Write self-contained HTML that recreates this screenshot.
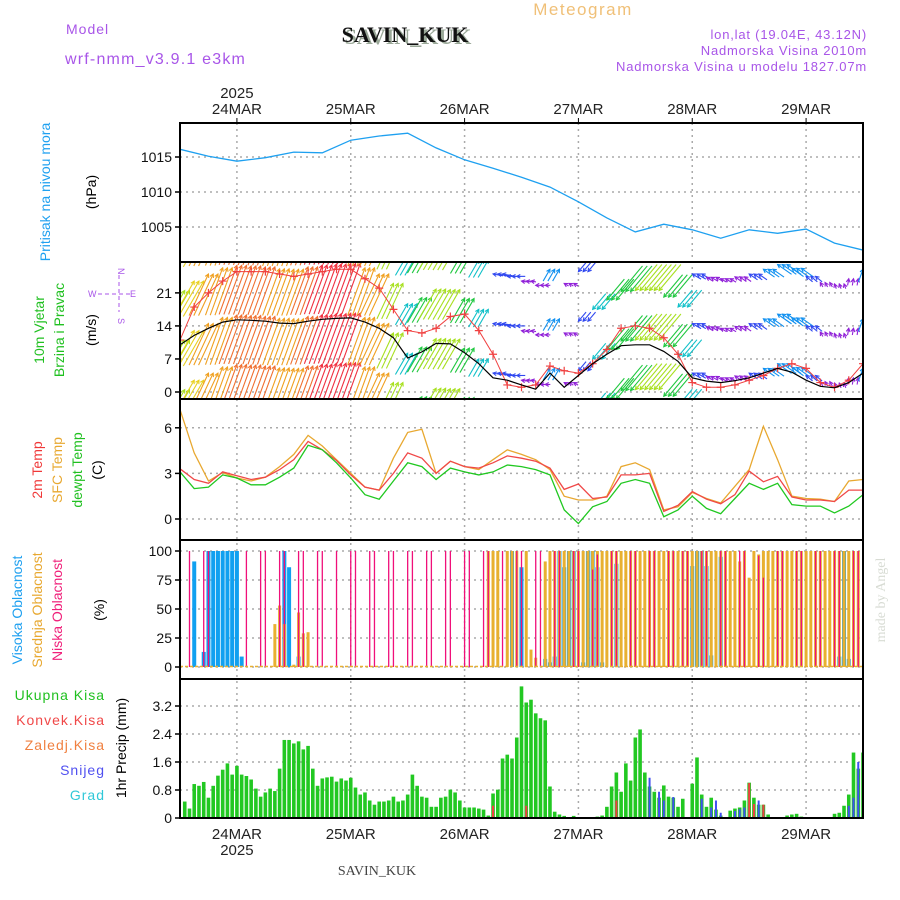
<!DOCTYPE html>
<html><head><meta charset="utf-8"><style>
html,body{margin:0;padding:0;background:#fff;width:900px;height:900px;overflow:hidden}
svg{display:block;font-family:"Liberation Sans",sans-serif}
</style></head><body>
<svg id="chart" width="900" height="900" viewBox="0 0 900 900">
<g>
<text x="583" y="15" text-anchor="middle" font-size="17" fill="#f0c078" letter-spacing="1.5">Meteogram</text>
<text x="66" y="34" font-size="14" fill="#a855e8" letter-spacing="1">Model</text>
<text x="408" y="44" text-anchor="middle" font-size="22" font-weight="bold" fill="#9aa898" font-family="Liberation Serif,serif">SAVIN_KUK</text>
<text x="405" y="42" text-anchor="middle" font-size="22" font-weight="bold" fill="#111" font-family="Liberation Serif,serif">SAVIN_KUK</text>
<text x="65" y="64" font-size="16" fill="#a855e8" letter-spacing="1.2">wrf-nmm_v3.9.1 e3km</text>
<text x="867" y="39" text-anchor="end" font-size="13" fill="#a855e8" letter-spacing="0.8">lon,lat (19.04E, 43.12N)</text>
<text x="867" y="55" text-anchor="end" font-size="13" fill="#a855e8" letter-spacing="0.8">Nadmorska Visina 2010m</text>
<text x="867" y="71" text-anchor="end" font-size="13" fill="#a855e8" letter-spacing="0.8">Nadmorska Visina u modelu 1827.07m</text>
</g>
<g font-size="14">
<text transform="translate(50,192) rotate(-90)" text-anchor="middle" fill="#1ea0f0">Pritisak na nivou mora</text>
<text transform="translate(96,192) rotate(-90)" text-anchor="middle" fill="#000">(hPa)</text>
<text transform="translate(44,330) rotate(-90)" text-anchor="middle" fill="#20c020">10m Vjetar</text>
<text transform="translate(64,330) rotate(-90)" text-anchor="middle" fill="#20c020">Brzina i Pravac</text>
<text transform="translate(96,330) rotate(-90)" text-anchor="middle" fill="#000">(m/s)</text>
<g fill="#a855e8" font-size="9">
<text x="88" y="297">W</text><text x="130" y="297">E</text>
<text x="118" y="268" transform="rotate(90 118 268)">N</text>
<text x="118" y="318" transform="rotate(90 118 318)">S</text>
<line x1="98" y1="294" x2="130" y2="294" stroke="#a855e8" stroke-dasharray="4,3"/>
<line x1="119" y1="275" x2="119" y2="312" stroke="#a855e8" stroke-dasharray="4,3"/>
</g>
<text transform="translate(42,470) rotate(-90)" text-anchor="middle" fill="#f03838">2m Temp</text>
<text transform="translate(62,470) rotate(-90)" text-anchor="middle" fill="#e8a830">SFC Temp</text>
<text transform="translate(82,470) rotate(-90)" text-anchor="middle" fill="#20c020">dewpt Temp</text>
<text transform="translate(102,470) rotate(-90)" text-anchor="middle" fill="#000">(C)</text>
<text transform="translate(22,610) rotate(-90)" text-anchor="middle" fill="#1ea0f0">Visoka Oblacnost</text>
<text transform="translate(42,610) rotate(-90)" text-anchor="middle" fill="#e8a830">Srednja Oblacnost</text>
<text transform="translate(62,610) rotate(-90)" text-anchor="middle" fill="#f0207a">Niska Oblacnost</text>
<text transform="translate(104,610) rotate(-90)" text-anchor="middle" fill="#000">(%)</text>
<g text-anchor="end" letter-spacing="1">
<text x="105" y="700" fill="#20c020">Ukupna Kisa</text>
<text x="105" y="725" fill="#f04848">Konvek.Kisa</text>
<text x="105" y="750" fill="#f08040">Zaledj.Kisa</text>
<text x="105" y="775" fill="#5050f0">Snijeg</text>
<text x="105" y="800" fill="#30c8d8">Grad</text>
</g>
<text transform="translate(126,748) rotate(-90)" text-anchor="middle" fill="#000">1hr Precip (mm)</text>
</g>
<text transform="translate(885,600) rotate(-90)" text-anchor="middle" font-size="14" fill="#d8dcd4" font-family="Liberation Serif,serif">made by Angel</text>
<text x="377" y="875" text-anchor="middle" font-size="14" fill="#444" font-family="Liberation Serif,serif">SAVIN_KUK</text>
<g id="grid"></g><g id="marks"></g><g id="axes"></g>
</svg>
<script>
const days=['24MAR','25MAR','26MAR','27MAR','28MAR','29MAR'];
const dayHours=[12,36,60,84,108,132];
const pTicks=[1005,1010,1015];
const wTicks=[0,7,14,21];
const tTicks=[0,3,6];
const cTicks=[0,25,50,75,100];
const prTicks=['0','0.8','1.6','2.4','3.2'];
// pressure every 6h
const pressure=[1016.1,1015.1,1014.4,1014.9,1015.7,1015.6,1017.4,1018.0,1018.4,1016.3,1014.6,1013.4,1012.1,1010.7,1008.6,1006.3,1004.3,1005.4,1004.6,1003.4,1004.6,1004.1,1004.7,1002.7,1001.7];
// wind every 3h
const windSpeed=[10,12,13.5,14.8,15.3,15.2,15,14.6,14.5,15,15.4,15.6,15.7,14.8,13.5,11.5,7.2,8.5,10.3,10.2,8.3,6,3,2.5,1.5,0.6,4,1,3.5,6,8,9.8,10,10,8.6,6.5,3,2.3,2,2.4,3,4,5,4.2,2.5,1.2,0.9,2,4];
const windGust=[11,18,21,23.5,25.5,25.5,25.5,25,24.5,25,25.5,26,26,24,22,17.5,13,12.5,13.5,16,16.5,13,8,1.5,1,1.5,5.5,4.5,4,6,9,13.5,14,13.5,11.5,8,2,1,1,1.5,2.5,3.5,5,6,5,2,1,2.5,6];
const windDir=[210,210,205,200,200,200,200,200,200,200,200,200,200,200,205,205,210,210,210,210,210,210,100,90,100,90,210,120,40,40,40,40,40,40,40,40,120,120,120,125,125,125,125,125,130,150,160,190,200];
// temperature every 3h
const temp2m=[3.3,2.6,2.35,3.1,2.85,2.6,2.75,3.25,3.9,5.1,4.55,3.85,2.9,2.1,1.9,3.0,4.35,4.0,3.0,3.8,3.45,3.35,3.7,4.15,4.0,3.8,3.35,1.95,2.3,1.35,1.45,2.9,2.9,3.0,0.5,0.9,1.8,1.3,1.0,1.6,3.15,2.45,2.8,1.45,1.25,1.25,1.15,1.9,1.9];
const tempSfc=[7.2,4.35,2.5,3.05,2.7,2.5,2.75,3.45,4.25,5.5,4.8,3.9,3.0,2.1,1.9,4.0,5.7,5.9,3.0,3.8,3.45,3.25,3.9,4.55,4.25,3.9,3.25,1.5,1.25,1.25,1.5,3.45,3.7,3.25,0.6,0.8,1.75,1.35,1.05,2.15,3.25,6.1,3.9,1.5,1.35,1.3,1.15,2.5,2.6];
const tempDew=[3.1,2.0,2.1,2.9,2.7,2.25,2.25,2.75,3.35,4.85,4.55,3.7,2.7,1.6,1.3,2.5,3.7,3.45,2.6,3.35,3.1,2.9,3.1,3.55,3.45,3.25,2.9,0.6,-0.3,0.8,1.15,2.35,2.6,2.35,0.15,0.6,1.5,0.7,0.35,1.35,2.35,1.95,2.35,0.95,0.85,0.85,0.4,0.85,1.6];
// clouds hourly (index = hour)
const cloudHigh=[0,0,0,91,0,13,100,100,100,100,100,100,100,9,0,0,0,0,0,0,0,0,100,86,0,9,0,0,0,0,0,0,0,0,0,0,0,0,0,0,0,0,0,0,0,0,0,0,0,0,0,0,0,0,0,0,0,0,0,0,0,0,0,0,0,0,0,0,0,0,100,0,86,0,0,0,0,7,4,9,100,86,100,100,0,4,100,100,86,4,0,0,89,0,0,0,0,0,0,0,0,0,0,0,0,0,0,0,87,100,100,87,10,0,95,0,0,0,0,0,0,0,0,0,0,0,0,0,0,0,0,0,0,0,0,0,0,0,0,9,100,7,0,0];
const cloudMid=[0,0,0,0,0,0,0,0,0,0,0,0,0,0,0,0,0,0,0,0,37,53,37,0,2,47,29,30,0,0,0,0,0,0,0,0,0,0,0,0,0,0,0,0,0,0,0,0,0,0,0,0,0,0,0,0,0,0,0,0,0,0,0,0,0,100,100,100,0,100,100,100,0,100,15,8,0,91,100,100,100,100,100,100,100,100,100,100,100,100,100,100,100,100,100,100,100,100,100,100,100,100,100,100,100,100,100,100,100,100,100,100,100,100,100,100,100,100,91,100,77,100,97,100,100,100,100,100,100,100,100,100,100,100,100,100,100,100,100,100,100,100,100,100];
const cloudLow=[0,0,100,0,0,100,100,0,0,0,0,0,0,0,100,0,0,100,100,0,0,100,100,0,0,100,100,0,0,100,100,0,0,100,0,0,100,100,0,0,100,100,0,0,100,100,0,0,100,100,0,0,100,100,0,0,100,100,0,0,100,100,0,0,100,100,0,0,100,0,0,100,100,0,0,100,100,0,0,100,100,0,0,100,100,0,0,84,97,0,0,100,100,0,0,100,100,0,0,100,100,0,0,100,100,0,100,100,0,0,100,100,0,0,100,100,0,0,100,100,0,0,96,77,0,0,100,100,0,0,100,100,0,0,100,100,0,0,100,100,0,0,100,100];
// precip hourly
const precipTotal=[0.47,0.27,0.97,0.92,1.03,0.58,0.92,1.21,1.38,1.56,1.24,1.49,1.24,1.2,1.1,0.84,0.61,0.73,0.84,0.77,1.41,2.23,2.23,2.13,2.19,1.96,2.06,1.41,0.92,1.13,1.16,1.18,1.04,1.13,1.07,1.15,0.87,0.67,0.73,0.5,0.38,0.47,0.47,0.5,0.61,0.47,0.5,0.67,1.24,0.92,0.61,0.58,0.32,0.32,0.58,0.61,0.81,0.73,0.5,0.3,0.3,0.3,0.27,0.24,0.07,0.7,0.81,1.7,1.81,1.7,2.3,3.76,3.3,3.38,2.99,2.85,2.79,0.9,0.18,0.1,0.06,0,0.06,0,0,0,0,0.04,0.07,0.32,0.9,1.3,0.75,1.56,1.07,2.3,2.53,1.3,0.9,0.75,0.58,0.93,0.61,0.58,0.32,0.55,0,0.98,1.73,0.67,0.32,0.58,0.24,0.07,0,0.21,0.27,0.3,0.5,1.01,0.58,0.38,0.38,0.1,0,0,0,0.07,0.1,0.12,0.04,0,0,0,0,0,0,0.12,0.15,0.35,0.67,1.87,1.41,1.87];
const snowHours=[98,100,101,103,109,111,112,113,116,117,118,121,122,140,141,142,143];
const snowValues=[1.15,0.75,0.5,0.6,0.55,0.3,0.5,0.15,0.2,0.25,0.3,0.5,0.35,0.35,0.58,1.6,1.25];
const convHours=[65,72,91,119,120,122];
const convValues=[0.35,0.35,0.5,1.0,0.4,0.38];

const NS='http://www.w3.org/2000/svg';
const X0=180,X1=863,HRS=144;
function x(h){return X0+h*(X1-X0)/HRS;}
function yP(v){return 157-(v-1015)*7;}
function yW(v){return 392-v*4.72;}
function yT(v){return 519-v*15.2;}
function yC(v){return 667-v*1.16;}
function yR(v){return 818-v*35;}
const panels=[[123,262],[262,399],[399,540],[540,679],[679,818]];
function mk(tag,attrs,parent){const e=document.createElementNS(NS,tag);for(const k in attrs)e.setAttribute(k,attrs[k]);parent.appendChild(e);return e;}
const grid=document.getElementById('grid'),marks=document.getElementById('marks'),axes=document.getElementById('axes');
const svg=document.getElementById('chart');
// clip paths
const defs=mk('defs',{},svg);
panels.forEach((p,i)=>{const c=mk('clipPath',{id:'clip'+i},defs);mk('rect',{x:X0,y:p[0],width:X1-X0,height:p[1]-p[0]},c);});
// vertical grid
dayHours.forEach((h,i)=>{
 const l=mk('line',{x1:x(h),x2:x(h),y1:123,y2:818,stroke:'#aaa','stroke-dasharray':'2,4','stroke-width':1.5},grid);
 
 
 const t=mk('text',{x:x(h),y:114,'text-anchor':'middle','font-size':15,fill:'#222'},axes);t.textContent=days[i];
 
 
 const b=mk('text',{x:x(h),y:839,'text-anchor':'middle','font-size':15,fill:'#222'},axes);b.textContent=days[i];
 
 
 mk('line',{x1:x(h),x2:x(h),y1:118,y2:123,stroke:'#000'},axes);
});
const y1=mk('text',{x:x(12),y:98,'text-anchor':'middle','font-size':15,fill:'#222'},axes);y1.textContent='2025';


const y2=mk('text',{x:x(12),y:855,'text-anchor':'middle','font-size':15,fill:'#222'},axes);y2.textContent='2025';


function hTicks(vals,labels,fy,name){vals.forEach((v,i)=>{const yy=fy(v);
 const g=mk('line',{x1:X0,x2:X1,y1:yy,y2:yy,stroke:'#aaa','stroke-dasharray':'2,4','stroke-width':1.5},grid);
 
 
 mk('line',{x1:X0-5,x2:X0,y1:yy,y2:yy,stroke:'#000','stroke-width':1.5},axes);
 const t=mk('text',{x:X0-8,y:yy+5,'text-anchor':'end','font-size':14,fill:'#111'},axes);t.textContent=labels[i];
 
 });}
hTicks(pTicks,pTicks.map(String),yP,'pressure');
hTicks(wTicks,wTicks.map(String),yW,'wind');
hTicks(tTicks,tTicks.map(String),yT,'temp');
hTicks(cTicks,cTicks.map(String),yC,'cloud');
hTicks(prTicks.map(Number),prTicks,yR,'precip');
// frames
panels.forEach(p=>{const r=mk('rect',{x:X0,y:p[0],width:X1-X0,height:p[1]-p[0],fill:'none',stroke:'#000','stroke-width':2},axes);
 
 });
function line(arr,step,fy,color,clip,name,w){const d=arr.map((v,i)=>(i?'L':'M')+x(i*step).toFixed(1)+','+fy(v).toFixed(1)).join('');
 const p=mk('path',{d:d,fill:'none',stroke:color,'stroke-width':w||1.3,'clip-path':'url(#clip'+clip+')'},marks);
 
 return p;}
line(pressure,6,yP,'#1ea0f0',0,'pressure-line');
// wind arrows
function wcol(s){if(s<2.5)return'#9020d8';if(s<4)return'#3048f0';if(s<6)return'#1090f0';if(s<8)return'#10c0c8';if(s<10)return'#20c840';if(s<12)return'#a8e020';if(s<13.5)return'#e8d020';if(s<15)return'#f0a020';if(s<15.4)return'#f07030';return'#f03040';}
const wg=mk('g',{'clip-path':'url(#clip1)'},marks);


windSpeed.forEach((s,k)=>{const th=windDir[k]*Math.PI/180;const dx=-Math.sin(th),dy=Math.cos(th);const L=3.4*Math.max(s,1.5);const c=wcol(s);
 for(let sub=0;sub<3;sub++){const h=k*3+sub;if(h>144)break;const bx=x(h);
  for(let m=-2;m<=3;m++){const ty=yW(s+1+10.5*m);const tx=bx;
   const a=mk('line',{x1:tx-L*dx,y1:ty-L*dy,x2:tx,y2:ty,stroke:c,'stroke-width':1.1},wg);
   
   
   const ang=Math.atan2(dy,dx);
   mk('path',{d:'M'+(tx-4*Math.cos(ang-0.5))+','+(ty-4*Math.sin(ang-0.5))+'L'+tx+','+ty+'L'+(tx-4*Math.cos(ang+0.5))+','+(ty-4*Math.sin(ang+0.5)),fill:'none',stroke:c,'stroke-width':1.1},wg);}}});
line(windGust,3,yW,'#f04040',1,'wind-gust-line',1);
windGust.forEach((g,k)=>{const cx=x(k*3),cy=yW(g);
 const p=mk('path',{d:'M'+(cx-4)+','+cy+'h8M'+cx+','+(cy-4)+'v8',stroke:'#f04040','stroke-width':1.2,'clip-path':'url(#clip1)'},marks);
 
 });
line(windSpeed,3,yW,'#000',1,'wind-speed-line',1.2);
// temperature
line(tempSfc,3,yT,'#e8a830',2,'sfc-temp-line');
line(temp2m,3,yT,'#f04848',2,'temp-2m-line');
line(tempDew,3,yT,'#20c820',2,'dewpoint-line');
// clouds
function cbar(arr,color,w,name){arr.forEach((v,i)=>{if(v<=0)return;const xx=x(i);
 const r=mk('rect',{x:xx-w/2,y:yC(v),width:w,height:yC(0)-yC(v),fill:color},marks);
 
 });}
cbar(cloudHigh,'#10a0f0',4,'high-cloud-bar');
cbar(cloudMid,'#e8b030',3,'mid-cloud-bar');
cbar(cloudLow,'#f0107a',1.3,'low-cloud-bar');
const bl=mk('line',{x1:X0,x2:X1,y1:yC(0)-0.5,y2:yC(0)-0.5,stroke:'#e8b030','stroke-width':1.5,'stroke-dasharray':'3,2'},marks);


// precip
precipTotal.forEach((v,i)=>{if(v<=0)return;const xx=x(i+1);
 const r=mk('rect',{x:xx-1.8,y:yR(v),width:3.6,height:yR(0)-yR(v),fill:'#22c822','clip-path':'url(#clip4)'},marks);
 
 });
snowHours.forEach((h,i)=>{const xx=x(h+1);
 const r=mk('rect',{x:xx-1,y:yR(snowValues[i]),width:2,height:yR(0)-yR(snowValues[i]),fill:'#4050f0'},marks);
 
 });
convHours.forEach((h,i)=>{const xx=x(h+1);
 const r=mk('rect',{x:xx-1,y:yR(convValues[i]),width:2,height:yR(0)-yR(convValues[i]),fill:'#f04040'},marks);
 
 });
</script>
</body></html>
